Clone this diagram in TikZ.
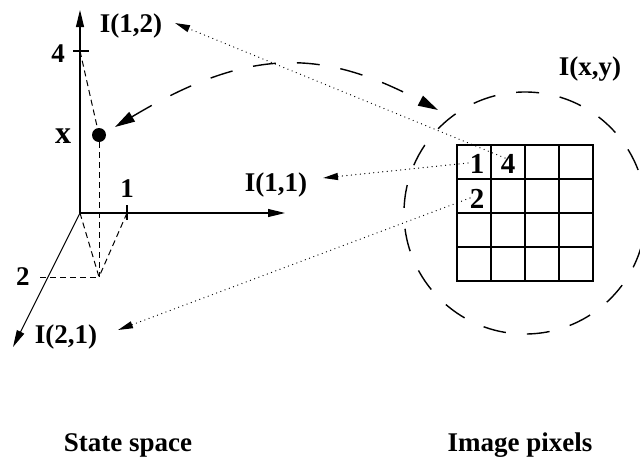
\documentclass[tikz,border=0pt]{standalone}
\usepackage{fontspec}
\setmainfont{Liberation Serif}
\usetikzlibrary{arrows.meta}
\begin{document}
\begin{tikzpicture}[x=1pt,y=-1pt,
  lbl/.style={font=\fontsize{27}{30}\selectfont\bfseries, inner sep=0pt, anchor=base},
  biglbl/.style={lbl, font=\fontsize{29}{32}\selectfont\bfseries},
  axis/.style={line width=1.1pt, -{Triangle[length=17pt,width=8pt]}},
  tick/.style={line width=1.1pt},
  shortdash/.style={line width=1pt, dash pattern=on 6pt off 4pt},
  longdash/.style={line width=1.4pt, dash pattern=on 23pt off 21pt},
  bigarrow/.style={longdash, {Triangle[length=20pt,width=11pt]}-{Triangle[length=20pt,width=11pt]}},
  dotarrow/.style={line width=1.3pt, line cap=round, dash pattern=on 0.01pt off 4.5pt, -{Triangle[length=15pt,width=7pt]}},
  gridline/.style={line width=1.3pt}
]
\useasboundingbox (0,0) rectangle (640,461);

% ---- state space axes ----
\coordinate (O) at (80,213);
\coordinate (Ytip) at (80,10);
\coordinate (Xtip) at (285,213);
\coordinate (Ztip) at (13,347);
\draw[axis] (O) -- (Ytip);
\draw[axis] (O) -- (Xtip);
\draw[axis] (O) -- (Ztip);

% ticks
\coordinate (t4) at (80,51);
\coordinate (t4a) at (73,51);
\coordinate (t4b) at (89,51);
\draw[tick] (t4a) -- (t4b);
\coordinate (t1) at (127,213);
\coordinate (t1a) at (127,205);
\coordinate (t1b) at (127,220);
\draw[tick] (t1a) -- (t1b);

% point x
\node[circle, fill, inner sep=0pt, minimum size=14pt] (P) at (99,135) {};
\coordinate (foot) at (99,277);
\coordinate (z2) at (40,277);
\draw[shortdash] (t4) -- (P);
\draw[shortdash] (P) -- (foot);
\draw[shortdash] (O) -- (foot);
\draw[shortdash] (t1) -- (foot);
\draw[shortdash] (z2) -- (foot);

% labels of state space
\node[lbl] (l4) at (58,62) {4};
\node[lbl, font=\fontsize{32}{34}\selectfont\bfseries] (lx) at (63,143) {x};
\node[lbl] (l1) at (127,197) {1};
\node[lbl] (l2) at (23,285) {2};
\node[lbl] (I12) at (131,32) {I(1,2)};
\node[lbl] (I11) at (276,191) {I(1,1)};
\node[lbl] (I21) at (66,343) {I(2,1)};

% ---- image pixels ----
\node[draw, circle, longdash, minimum size=242pt, inner sep=0pt] (C) at (525,213) {};
\node[draw, gridline, minimum size=136pt, inner sep=0pt] (G) at (525,213) {};
\foreach \v in {491,525,559} {
  \draw[gridline] (\v,145) -- (\v,281);
}
\foreach \h in {179,213,247} {
  \draw[gridline] (457,\h) -- (593,\h);
}
\node[biglbl] (g1) at (477,173) {1};
\node[biglbl] (g4) at (508,173) {4};
\node[biglbl] (g2) at (477,208) {2};
\node[lbl] (Ixy) at (590,75) {I(x,y)};

% ---- connectors ----
\coordinate (arcA) at (115,127);
\coordinate (arcB) at (438,110);
\draw[bigarrow] (arcA) .. controls (250,46) and (323,49) .. (arcB);

\coordinate (s4) at (505,158);
\coordinate (s1) at (468,163);
\coordinate (s2) at (470,198);
\coordinate (tip12) at (175,23);
\coordinate (tip11) at (323,178);
\coordinate (tip21) at (118,330);
\draw[dotarrow] (s4) -- (tip12);
\draw[dotarrow] (s1) -- (tip11);
\draw[dotarrow] (s2) -- (tip21);

% ---- captions ----
\node[lbl] (cap1) at (128,451) {State space};
\node[lbl] (cap2) at (520,451) {Image pixels};
\end{tikzpicture}
\end{document}
